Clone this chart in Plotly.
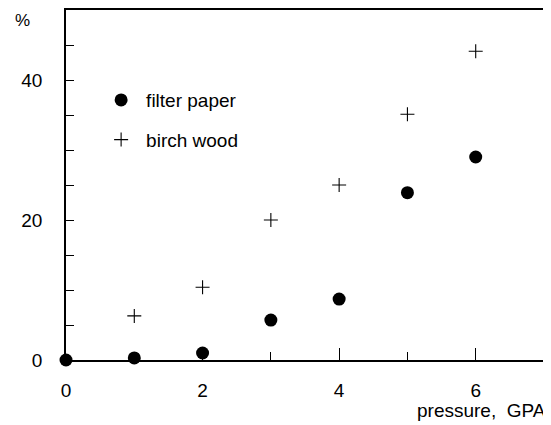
import plotly.graph_objects as go

pressure = [0, 1, 2, 3, 4, 5, 6]
filter_paper = [0.0, 0.3, 1.0, 5.7, 8.7, 23.9, 29.0]
birch_pressure = [1, 2, 3, 4, 5, 6]
birch_wood = [6.3, 10.4, 20.0, 25.0, 35.1, 44.1]

FONT = "Liberation Sans, Arial, Helvetica, sans-serif"

fig = go.Figure()
fig.add_trace(go.Scatter(
    x=pressure, y=filter_paper, mode="markers", name="filter paper",
    marker=dict(symbol="circle", size=13, color="black"),
    cliponaxis=False, legendgroup="a",
))
fig.add_trace(go.Scatter(
    x=birch_pressure, y=birch_wood, mode="markers", name="birch wood",
    marker=dict(symbol="cross-thin", size=10, color="black",
                line=dict(color="black", width=1.1)),
    cliponaxis=False, legendgroup="b",
))

# page body has an 8px default margin, so the figure is 8px smaller
fig.update_layout(
    width=543, height=417,
    margin=dict(l=58, r=7, t=2, b=65),
    paper_bgcolor="white", plot_bgcolor="white",
    font=dict(family=FONT, size=19, color="black"),
    showlegend=True,
    legend=dict(x=0.063, y=0.797, xanchor="left", yanchor="top",
                bgcolor="rgba(0,0,0,0)", font=dict(size=19),
                tracegroupgap=12, itemsizing="trace", itemwidth=40),
    xaxis=dict(range=[0, 7], tick0=0, dtick=2, ticks="inside", ticklen=12,
               tickwidth=1.3, tickcolor="black", automargin=False,
               minor=dict(dtick=1, ticks="inside", ticklen=8, tickwidth=1.3,
                          tickcolor="black", showgrid=False),
               showline=True, linecolor="black", linewidth=1.5, mirror=True,
               showgrid=False, zeroline=False, ticklabelstandoff=12),
    yaxis=dict(range=[0, 50], tick0=0, dtick=20, ticks="inside", ticklen=8,
               tickwidth=1.3, tickcolor="black", automargin=False,
               minor=dict(dtick=5, ticks="inside", ticklen=8, tickwidth=1.3,
                          tickcolor="black", showgrid=False),
               showline=True, linecolor="black", linewidth=1.5, mirror=True,
               showgrid=False, zeroline=False, ticklabelstandoff=18),
)

fig.add_annotation(text="%", xref="paper", yref="paper", x=-0.092, y=0.971,
                   xanchor="center", yanchor="middle", showarrow=False,
                   font=dict(size=17))
fig.add_annotation(text="pressure,  GPA", xref="paper", yref="paper",
                   x=1.008, y=-0.143, xanchor="right", yanchor="middle",
                   showarrow=False, font=dict(size=19))

fig.write_html("out.html")
